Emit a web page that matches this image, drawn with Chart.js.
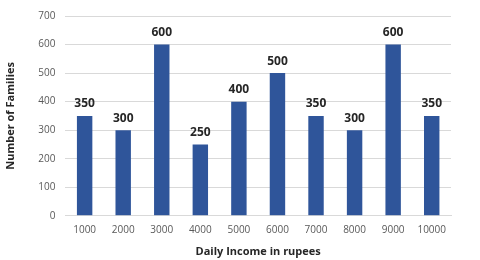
<!DOCTYPE html>
<html>
<head>
<meta charset="utf-8">
<script src="https://cdn.jsdelivr.net/npm/chart.js@4"></script>
<style>
  html, body { margin: 0; padding: 0; background: #fff; }
  #wrap { width: 480px; height: 260px; position: relative; }
</style>
</head>
<body>
<div id="wrap"><canvas id="c"></canvas></div>
<script>
// Daily income brackets (rupees) and number of families in each
const incomeLevels = ['1000', '2000', '3000', '4000', '5000', '6000', '7000', '8000', '9000', '10000'];
const familyCounts = [350, 300, 600, 250, 400, 500, 350, 300, 600, 350];
const yTicks = [0, 100, 200, 300, 400, 500, 600, 700];

const FONT = "'Open Sans', 'DejaVu Sans', sans-serif";

// Writes each bar's value just above it
const valueLabels = {
  id: 'valueLabels',
  afterDatasetsDraw(chart) {
    const ctx = chart.ctx;
    const meta = chart.getDatasetMeta(0);
    ctx.save();
    ctx.font = `bold 12px ${FONT}`;
    ctx.fillStyle = '#262626';
    ctx.textAlign = 'center';
    ctx.textBaseline = 'bottom';
    meta.data.forEach((bar, i) => {
      ctx.fillText(String(chart.data.datasets[0].data[i]), bar.x, bar.y - 6);
    });
    ctx.restore();
  }
};

new Chart(document.getElementById('c'), {
  type: 'bar',
  data: {
    labels: incomeLevels,
    datasets: [{
      data: familyCounts,
      backgroundColor: '#2f559a',
      barPercentage: 0.4,
      categoryPercentage: 1.0
    }]
  },
  options: {
    responsive: true,
    maintainAspectRatio: false,
    animation: false,
    layout: { padding: { left: 4, right: 29, top: 6, bottom: 2 } },
    plugins: {
      legend: { display: false },
      tooltip: { enabled: false }
    },
    scales: {
      x: {
        grid: { display: false, drawTicks: false },
        border: { display: true, color: '#d9d9d9' },
        ticks: { color: '#595959', font: { family: FONT, size: 10 }, padding: 8 },
        title: {
          display: true,
          text: 'Daily Income in rupees',
          color: '#262626',
          font: { family: FONT, size: 11, weight: 'bold' },
          padding: { top: 1, bottom: 0 }
        }
      },
      y: {
        min: 0,
        max: 700,
        afterBuildTicks(axis) { axis.ticks = yTicks.map(v => ({ value: v })); },
        grid: { color: '#d9d9d9', drawTicks: false },
        border: { display: false },
        ticks: { color: '#595959', font: { family: FONT, size: 10 }, padding: 10 },
        title: {
          display: true,
          text: 'Number of Families',
          color: '#262626',
          font: { family: FONT, size: 11, weight: 'bold' },
          padding: { top: 0, bottom: 11 }
        }
      }
    }
  },
  plugins: [valueLabels]
});
</script>
</body>
</html>
